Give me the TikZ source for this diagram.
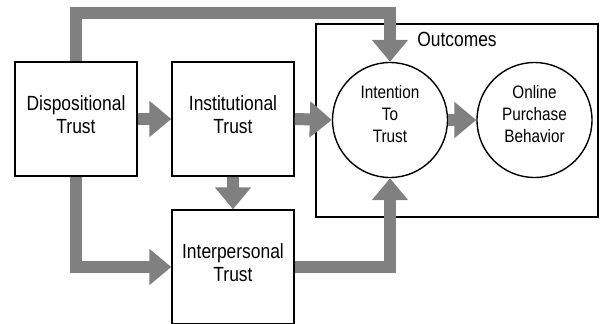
\documentclass[tikz,border=0pt]{standalone}
\usepackage{fontspec}
\setmainfont{Liberation Sans}[FakeStretch=0.85]
\usetikzlibrary{arrows.meta}
\definecolor{flowgray}{RGB}{128,128,128}

\begin{document}
\begin{tikzpicture}[x=1pt,y=-1pt,
        trustbox/.style={draw,line width=1.4pt,minimum width=122pt,minimum height=114pt,inner sep=0pt,text depth=8pt,align=center,font=\fontsize{20.5}{23}\selectfont},
        outcome/.style={draw,circle,line width=1.4pt,minimum size=115pt,inner sep=0pt,text depth=13pt,align=center,font=\fontsize{18}{22}\selectfont},
        flow/.style={draw=flowgray,line width=12pt,-{Triangle[width=35pt,length=22pt]}}]
    \useasboundingbox (0,0) rectangle (600,324);
    % outcome frame
    \node[draw,line width=1.4pt,minimum width=282pt,minimum height=193pt] (outc) at (457,120.5) {};
    \node[anchor=north,inner sep=0pt,font=\fontsize{20.5}{23}\selectfont] (outctitle) at ([yshift=-9pt]outc.north) {Outcomes};
    % trust boxes
    \node[trustbox] (disp) at (76,119) {Dispositional\\Trust};
    \node[trustbox] (inst) at (233,119) {Institutional\\Trust};
    \node[trustbox] (inter) at (233,267) {Interpersonal\\Trust};
    \node[outcome] (itt) at (390,120) {Intention\\To\\Trust};
    \node[outcome] (opb) at (534.5,120) {Online\\Purchase\\Behavior};
    \coordinate (topbend) at (390,13);
    % flows
    \draw[flow] (disp.north) |- (topbend) -- (itt.north);
    \draw[flow] (disp.east) -- (inst.west);
    \draw[flow] (inst.east) -- (itt.west);
    \draw[flow] (itt.east) -- (opb.west);
    \draw[flow] (inst.south) -- (inter.north);
    \draw[flow] (disp.south) |- (inter.west);
    \draw[flow] (inter.east) -| (itt.south);
\end{tikzpicture}
\end{document}
